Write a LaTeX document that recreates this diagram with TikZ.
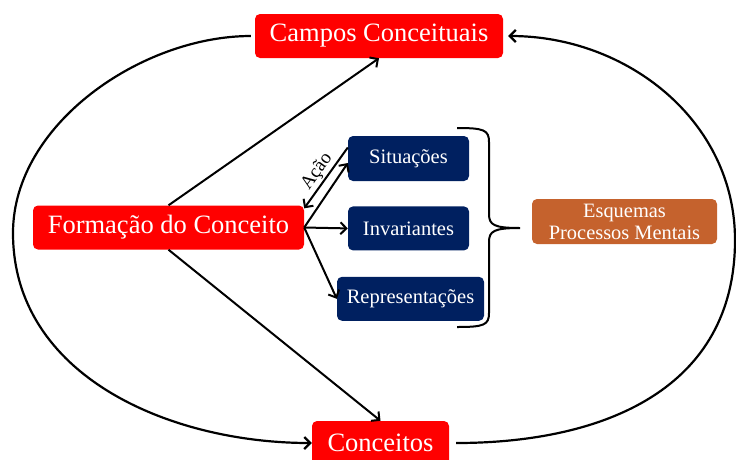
\documentclass[tikz,border=0pt]{standalone}
\usepackage{fontspec}
\setmainfont{Liberation Serif}
\usetikzlibrary{arrows.meta,positioning}
\definecolor{conceptred}{RGB}{255,0,0}
\definecolor{navyblue}{RGB}{0,32,96}
\definecolor{schemeorange}{RGB}{197,98,45}

\begin{document}
\begin{tikzpicture}[
    x=1pt, y=-1pt,
    redblock/.style={rectangle, fill=conceptred, text=white, rounded corners=5pt, inner sep=0pt, minimum height=44pt, font=\fontsize{26.5}{30}\selectfont},
    blueblock/.style={rectangle, fill=navyblue, text=white, rounded corners=5pt, inner sep=0pt, minimum height=44pt, font=\fontsize{20.5}{24}\selectfont},
    orangeblock/.style={rectangle, fill=schemeorange, text=white, rounded corners=5pt, inner sep=0pt, minimum height=45pt, align=center, font=\fontsize{20.4}{22}\selectfont},
    arrow/.style={-{Straight Barb[length=6pt,width=12pt]}, line width=2pt},
    backarrow/.style={{Straight Barb[length=6pt,width=12pt]}-, line width=2pt},
    ringarrow/.style={-{Straight Barb[length=6pt,width=12pt]}, line width=2.2pt}
]
    \useasboundingbox (0,0) rectangle (736,459);

    % Main concepts
    \node[redblock, minimum width=248pt] (campos) at (379,36) {Campos Conceituais};
    \node[redblock, minimum width=271pt] (formacao) at (168.5,227.5) {Formação do Conceito};
    \node[redblock, minimum width=137pt] (conceitos) at (380.5,443) {Conceitos};

    % Components
    \node[blueblock, minimum width=121pt, minimum height=45pt] (situacoes) at (408.5,158.5) {Situações};
    \node[blueblock, minimum width=121pt, below=25pt of situacoes] (invariantes) {Invariantes};
    \node[blueblock, minimum width=147pt, below=26pt of invariantes, xshift=2pt] (representacoes) {Representações};

    % Schemes
    \node[orangeblock, minimum width=185pt] (esquemas) at (624.5,221.5) {Esquemas\\Processos Mentais};

    % Brace
    \coordinate (bracetip) at (520,228);
    \draw[line width=2pt] (457,128) .. controls (484,128) and (489,130) .. (489,142) -- (489,214)
        .. controls (489,225) and (494,228) .. (bracetip)
        .. controls (494,228) and (489,231) .. (489,242) -- (489,313)
        .. controls (489,325) and (484,327) .. (457,327);

    % Arrows
    \draw[arrow] (formacao.north) -- (campos.south);
    \draw[arrow] (formacao.south) -- (conceitos.north);
    \draw[backarrow] ([yshift=-3pt]formacao.north east) -- node[sloped, above, inner sep=1.5pt, font=\fontsize{19}{22}\selectfont] {Ação} ([yshift=11pt]situacoes.west);
    \draw[arrow] (formacao.east) -- ([yshift=-4.5pt]situacoes.west);
    \draw[arrow] (formacao.east) -- (invariantes.west);
    \draw[arrow] (formacao.east) -- (representacoes.west);

    % Cycle
    \coordinate (leftmost) at (13,233);
    \coordinate (rightmost) at (735,240);
    \draw[ringarrow] ([xshift=-4pt]campos.west) to[out=180, in=90, looseness=0.9] (leftmost) to[out=-90, in=180] (conceitos.west);
    \draw[ringarrow] ([xshift=7pt]conceitos.east) to[out=0, in=-90, looseness=1.1] (rightmost) to[out=90, in=0] ([xshift=5pt]campos.east);

\end{tikzpicture}
\end{document}
